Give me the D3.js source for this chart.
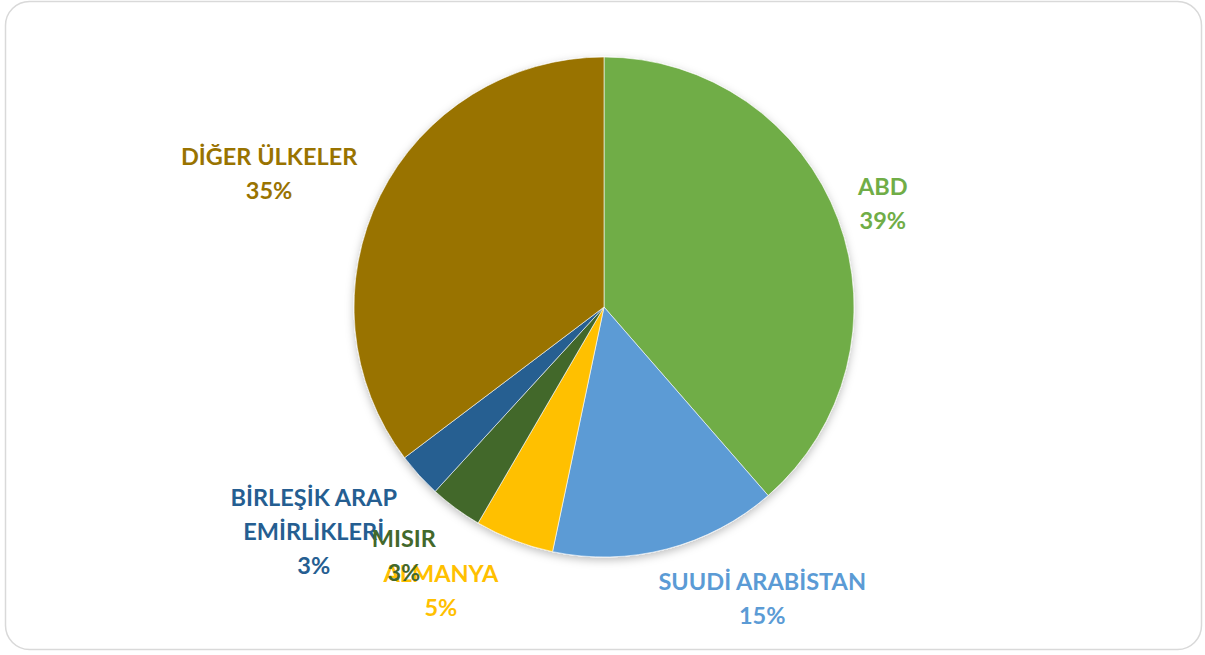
<!DOCTYPE html>
<html>
<head>
<meta charset="utf-8">
<script src="https://cdn.jsdelivr.net/npm/d3@7"></script>
<style>
  html, body { margin: 0; padding: 0; background: #fff; }
  svg { display: block; }
</style>
</head>
<body>
<div id="chart"></div>
<script>
// data
const countries = ['ABD', 'SUUDİ ARABİSTAN', 'ALMANYA', 'MISIR', 'BİRLEŞİK ARAP EMİRLİKLERİ', 'DİĞER ÜLKELER'];
const shares = [38.6, 14.7, 5.1, 3.4, 2.9, 35.3];
const percentLabels = ['39%', '15%', '5%', '3%', '3%', '35%'];
const labelLines = [['ABD'], ['SUUDİ ARABİSTAN'], ['ALMANYA'], ['MISIR'], ['BİRLEŞİK ARAP', 'EMİRLİKLERİ'], ['DİĞER ÜLKELER']];

const colors = ['#70ad47', '#5b9bd5', '#ffc000', '#43682b', '#255e91', '#997300'];

const config = {
  width: 1205,
  height: 655,
  cx: 604,
  cy: 307,
  radius: 250,
  labelRadius: 287,
  lineHeight: 34,
  fontSize: 23.5
};
// nudges from the label arc, Excel's best-fit placement
const labelNudge = [[10, -3], [86, 13], [-60, 15], [-30, 17], [-78, 31], [-78, -6]];

const svg = d3.select('#chart')
  .append('svg')
  .attr('width', config.width)
  .attr('height', config.height);

const defs = svg.append('defs');
const shadow = defs.append('filter').attr('id', 'shadow')
  .attr('x', '-10%').attr('y', '-10%').attr('width', '120%').attr('height', '125%');
shadow.append('feDropShadow')
  .attr('dx', 0).attr('dy', 3).attr('stdDeviation', 4)
  .attr('flood-color', '#000').attr('flood-opacity', 0.25);

// outer frame
svg.append('rect')
  .attr('x', 5.5).attr('y', 1.5)
  .attr('width', 1196).attr('height', 648)
  .attr('rx', 24).attr('ry', 24)
  .attr('fill', '#fff')
  .attr('stroke', '#d9d9d9')
  .attr('stroke-width', 1.5);

const data = countries.map((c, i) => ({ name: c, value: shares[i], pct: percentLabels[i], lines: labelLines[i], color: colors[i] }));

const pie = d3.pie().sort(null).value(d => d.value);
const arcs = pie(data);

const arc = d3.arc().innerRadius(0).outerRadius(config.radius);
const labelArc = d3.arc().innerRadius(config.labelRadius).outerRadius(config.labelRadius);

const g = svg.append('g').attr('transform', `translate(${config.cx},${config.cy})`);

g.append('g')
  .attr('filter', 'url(#shadow)')
  .selectAll('path')
  .data(arcs)
  .join('path')
  .attr('d', arc)
  .attr('fill', d => d.data.color)
  .attr('stroke', '#fff')
  .attr('stroke-width', 1)
  .attr('stroke-opacity', 0.6);

// labels; drawn in order so later ones sit on top as in the original
const labels = g.append('g')
  .attr('font-family', 'Lato, "Open Sans", sans-serif')
  .attr('font-weight', 700)
  .attr('font-size', config.fontSize)
  .attr('text-anchor', 'middle');

const order = [0, 1, 2, 4, 3, 5];
order.forEach(i => {
  const d = arcs[i];
  const [x, y] = labelArc.centroid(d);
  const nx = x + labelNudge[i][0];
  const ny = y + labelNudge[i][1];
  const lines = d.data.lines.concat([d.data.pct]);
  const top = ny - (lines.length - 1) * config.lineHeight / 2;
  const t = labels.append('text')
    .attr('fill', d.data.color)
    .attr('dominant-baseline', 'central');
  lines.forEach((line, k) => {
    t.append('tspan')
      .attr('x', nx)
      .attr('y', top + k * config.lineHeight)
      .text(line);
  });
});
</script>
</body>
</html>
